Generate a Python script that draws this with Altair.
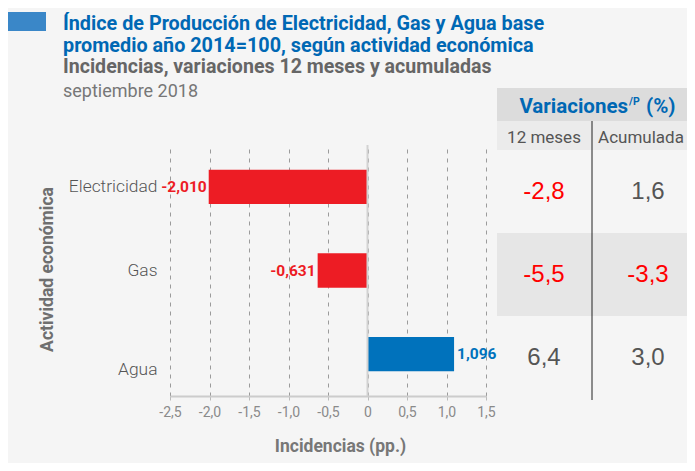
import altair as alt
import pandas as pd

# ---------------- data ----------------
categories = ["Electricidad", "Gas", "Agua"]
incidencias = [-2.010, -0.631, 1.096]
var_12_meses = [-2.8, -5.5, 6.4]
var_acumulada = [1.6, -3.3, 3.0]
table_columns = ["12 meses", "Acumulada"]
x_tick_values = [-2.5, -2.0, -1.5, -1.0, -0.5, 0.0, 0.5, 1.0, 1.5]
shaded_rows = ["Gas"]

title_lines = [
    "Índice de Producción de Electricidad, Gas y Agua base",
    "promedio año 2014=100, según actividad económica",
]
subtitle_line = "Incidencias, variaciones 12 meses y acumuladas"
date_line = "septiembre 2018"
x_title = "Incidencias (pp.)"
y_title = "Actividad económica"
header_parts = ["Variaciones", "/P", "(%)"]

# ---------------- style ----------------
RED = "#ED1C24"
BLUE = "#0072BC"
TITLE_BLUE = "#0068B4"
TABLE_RED = "#FF0000"
FONT = "Roboto"
NUMFONT = "Liberation Sans"
W, H = 316, 251

bars_df = pd.DataFrame({"cat": categories, "v": incidencias})
table_df = pd.DataFrame({
    "cat": categories + categories,
    "col": [table_columns[0]] * len(categories) + [table_columns[1]] * len(categories),
    "v": var_12_meses + var_acumulada,
})
shade_df = pd.DataFrame({"cat": shaded_rows})
cols_df = pd.DataFrame({"col": table_columns})
one = pd.DataFrame({"k": [0]})

xs = alt.Scale(domain=[-2.5, 1.5], nice=False, zero=False)
ys = alt.Scale(domain=categories, paddingInner=0.59, paddingOuter=0.295)

x_axis = alt.Axis(
    values=x_tick_values,
    tickCount=20,
    title=x_title,
    labelExpr="datum.value == 0 ? '0' : (datum.value < 0 ? '-' : '') + replace(format(abs(datum.value), '.1f'), '.', ',')",
    labelFlush=False,
    labelOverlap=False,
    grid=True, gridDash=[4, 5], gridColor="#9b9b9b", gridWidth=1,
    domainColor="#cccccc", domainWidth=2,
    tickColor="#bbbbbb", tickSize=4,
    labelFont=FONT, labelFontSize=14, labelColor="#8a8a8a", labelPadding=5,
    titleFont=FONT, titleFontSize=17.5, titleFontWeight="bold", titleColor="#777777",
    titleX=170, titleY=55, titleBaseline="alphabetic", titleAlign="center",
)
y_axis = alt.Axis(
    title=y_title,
    domain=False, ticks=False, tickSize=0, grid=False,
    labelPadding=13, labelFont=FONT, labelFontSize=17.4, labelColor="#555555",
    labelFontWeight=300,
    labelOffset={"condition": {"test": "datum.label == 'Agua'", "value": 16}, "value": 0},
    titleFont=FONT, titleFontSize=17.5, titleFontWeight="bold", titleColor="#6f6f6f",
    titleX=-118, titleY=124, titleBaseline="alphabetic", titleAlign="center",
)

label_expr = "(datum.v < 0 ? '-' : '') + replace(format(abs(datum.v), '.3f'), '.', ',')"

bars = alt.Chart(bars_df).mark_bar().encode(
    x=alt.X("v:Q", scale=xs, axis=x_axis),
    x2=alt.X2(datum=0),
    y=alt.Y("cat:N", scale=ys, sort=categories, axis=y_axis),
    color=alt.condition("datum.v < 0", alt.value(RED), alt.value(BLUE)),
)
zero_rule = alt.Chart(one).mark_rule(color="#d2d2d2", strokeWidth=2).encode(
    x=alt.X(datum=0, scale=xs)
)
lab_neg = alt.Chart(bars_df).transform_filter("datum.v < 0").transform_calculate(
    label=label_expr
).mark_text(align="right", dx=-2, baseline="middle", font=FONT, fontSize=15.5,
            fontWeight="bold", color=RED).encode(
    x=alt.X("v:Q", scale=xs), y=alt.Y("cat:N", scale=ys, sort=categories), text="label:N"
)
lab_pos = alt.Chart(bars_df).transform_filter("datum.v >= 0").transform_calculate(
    label=label_expr
).mark_text(align="left", dx=3, baseline="middle", font=FONT, fontSize=15.5,
            fontWeight="bold", color=BLUE).encode(
    x=alt.X("v:Q", scale=xs), y=alt.Y("cat:N", scale=ys, sort=categories), text="label:N"
)
bar_part = alt.layer(bars, zero_rule, lab_neg, lab_pos)

# ---------------- table ----------------
tx = alt.Scale(type="band", domain=table_columns, range=[322, 530], paddingInner=0, paddingOuter=0)
ty = alt.Scale(type="band", domain=categories, range=[5, 254], paddingInner=0, paddingOuter=0)

header_band = alt.Chart(one).mark_rect(color="#dcdcdc").encode(
    x=alt.value(327), x2=alt.value(540), y=alt.value(-57), y2=alt.value(-24))
sub_band = alt.Chart(one).mark_rect(color="#ebebeb").encode(
    x=alt.value(327), x2=alt.value(540), y=alt.value(-24), y2=alt.value(5))
shade = alt.Chart(shade_df).mark_rect(color="#e6e6e6").encode(
    x=alt.value(327), x2=alt.value(540),
    y=alt.Y("cat:N", scale=ty, axis=None))
sub_text_1 = alt.Chart(cols_df).transform_filter(
    alt.FieldEqualPredicate(field="col", equal=table_columns[0])
).mark_text(baseline="alphabetic", font=FONT, fontSize=17, color="#555555").encode(
    x=alt.X("col:N", scale=tx, axis=None), y=alt.value(-2), text="col:N")
sub_text_2 = alt.Chart(cols_df).transform_filter(
    alt.FieldEqualPredicate(field="col", equal=table_columns[1])
).mark_text(baseline="alphabetic", font=FONT, fontSize=17, color="#555555", dx=-7).encode(
    x=alt.X("col:N", scale=tx, axis=None), y=alt.value(-2), text="col:N")
values_text = alt.Chart(table_df).transform_calculate(
    label="(datum.v < 0 ? '-' : '') + replace(format(abs(datum.v), '.1f'), '.', ',')"
).mark_text(baseline="middle", font=NUMFONT, fontSize=24).encode(
    x=alt.X("col:N", scale=tx, axis=None),
    y=alt.Y("cat:N", scale=ty, axis=None),
    text="label:N",
    color=alt.condition("datum.v < 0", alt.value(TABLE_RED), alt.value("#555555")),
)
vline = alt.Chart(one).mark_rule(color="#222222", strokeWidth=1).encode(
    x=alt.value(422), y=alt.value(-24), y2=alt.value(255))


def vtext(txt, x, y, align="left", **kw):
    return alt.Chart(one).mark_text(text=txt, align=align, baseline="alphabetic", **kw).encode(
        x=alt.value(x), y=alt.value(y))


head1 = vtext(header_parts[0], 458, -32, align="right", font=FONT, fontSize=20.5,
              fontWeight="bold", color=TITLE_BLUE)
head2 = vtext(header_parts[1], 459, -40, font=FONT, fontSize=10.5, fontWeight="bold", color=TITLE_BLUE)
head3 = vtext(header_parts[2], 476, -32, font=FONT, fontSize=20.5, fontWeight="bold", color=TITLE_BLUE)

# ---------------- title block ----------------
square = alt.Chart(one).mark_rect(color="#3A87C8").encode(
    x=alt.value(-162), x2=alt.value(-124), y=alt.value(-133), y2=alt.value(-114))
t1 = vtext(title_lines[0], -107, -115, font=FONT, fontSize=19.8, fontWeight="bold", color=TITLE_BLUE)
t2 = vtext(title_lines[1], -107, -93, font=FONT, fontSize=19.8, fontWeight="bold", color=TITLE_BLUE)
t3 = vtext(subtitle_line, -107, -72, font=FONT, fontSize=19.6, fontWeight="bold", color="#666666")
t4 = vtext(date_line, -107, -48, font=FONT, fontSize=18, color="#777777")

table_part = alt.layer(header_band, sub_band, shade, vline, sub_text_1, sub_text_2, values_text,
                       head1, head2, head3, square, t1, t2, t3, t4)

chart = alt.layer(bar_part, table_part).resolve_scale(
    x="independent", y="independent"
).properties(
    width=W, height=H,
    padding={"left": 162, "top": 137, "right": 201, "bottom": 67},
    autosize=alt.AutoSizeParams(type="none"),
    background="#f5f5f5",
).configure_view(stroke=None)

chart.save("out.html", embed_options={"renderer": "svg", "actions": False})
